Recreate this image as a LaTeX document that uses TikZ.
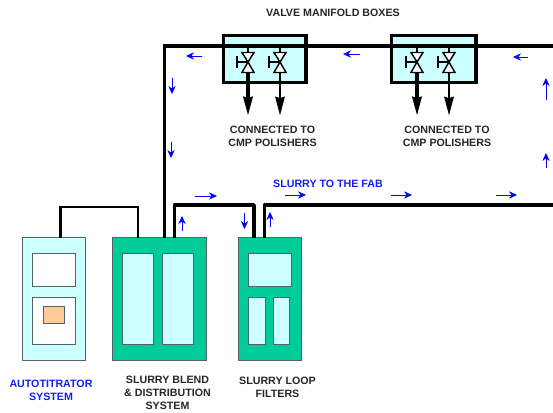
\documentclass[tikz,border=0pt]{standalone}
\usepackage{fontspec}
\setmainfont{Liberation Sans}
\definecolor{aqua}{RGB}{204,255,255}
\definecolor{teal1}{RGB}{0,204,153}
\definecolor{peach}{RGB}{255,204,153}
\definecolor{edgegray}{RGB}{80,100,100}
\definecolor{arrowblue}{RGB}{0,0,255}
\definecolor{labelblue}{RGB}{20,30,240}
\usetikzlibrary{arrows.meta}
\tikzset{
  panel/.style={draw=edgegray,line width=0.75pt,outer sep=0pt,inner sep=0pt,anchor=north west},
  pipethin/.style={line width=1.9pt,black},
  pipethick/.style={line width=2.3pt,black},
  flow/.style={arrowblue,line width=0.6pt,-{Stealth[length=6pt,width=5.5pt]}},
  outlet/.style={line width=2.4pt,black,-{Stealth[length=14pt,width=7pt,inset=1pt]}},
  outletthin/.style={line width=1.9pt,black,-{Stealth[length=14pt,width=7pt,inset=1pt]}},
  label/.style={font=\bfseries\fontsize{8pt}{9.7pt}\selectfont,align=center,text=black!85,inner sep=0pt},
  bluelabel/.style={label,text=labelblue},
  manifold/.style={draw=black,fill=aqua,line width=2.6pt,inner sep=0pt,anchor=north west},
  tri/.style={draw=black,fill=white,line width=1.1pt,line join=miter}
}
\newcommand{\valve}[2]{% name prefix, x
  \coordinate (#1c) at (#2,62);
  \coordinate (#1a) at (#2-11,62);
  \coordinate (#1t) at (#2,46);
  \coordinate (#1b) at (#2,73);
  \draw[line width=1.8pt] (#1t) -- (#1c);
  \draw[tri] (#2-6,52.5) -- (#2+6,52.5) -- (#1c) -- cycle;
  \draw[tri] (#2-6,72.5) -- (#2+6,72.5) -- (#1c) -- cycle;
  \draw[line width=1.7pt] (#1a) -- (#1c);
  \draw[line width=2.2pt] (#2-11,56) -- (#2-11,68);
}
\begin{document}
\begin{tikzpicture}[x=0.75pt,y=-0.75pt]
\useasboundingbox (0,0) rectangle (553,413);
% free ends
\coordinate (topR) at (553,46);
\coordinate (topL) at (164.5,46);
\coordinate (botR) at (553,205);

% manifold boxes
\node[manifold,minimum width=61.7pt,minimum height=34.9pt] (m1) at (222,34) {};
\node[manifold,minimum width=63.1pt,minimum height=34.9pt] (m2) at (390,34) {};

% blocks
\node[panel,fill=aqua,minimum width=47.25pt,minimum height=91.5pt] (auto) at (22,238) {};
\node[panel,fill=white,minimum width=32.25pt,minimum height=24.75pt] (auto1) at (32.5,253.5) {};
\node[panel,fill=white,minimum width=32.25pt,minimum height=35.25pt] (auto2) at (32.5,297) {};
\node[panel,fill=peach,minimum width=15.75pt,minimum height=12.75pt] (auto3) at (43,306.5) {};

\node[panel,fill=teal1,minimum width=70.5pt,minimum height=91.5pt] (blend) at (112,238) {};
\node[panel,fill=aqua,minimum width=23.25pt,minimum height=68.25pt] (blend1) at (122.5,253.5) {};
\node[panel,fill=aqua,minimum width=23.25pt,minimum height=68.25pt] (blend2) at (162,253.5) {};

\node[panel,fill=teal1,minimum width=47.25pt,minimum height=91.5pt] (filt) at (238,238) {};
\node[panel,fill=aqua,minimum width=32.25pt,minimum height=24.75pt] (filt1) at (248.5,253.5) {};
\node[panel,fill=aqua,minimum width=12.75pt,minimum height=35.25pt] (filt2) at (248.5,297) {};
\node[panel,fill=aqua,minimum width=12pt,minimum height=35.25pt] (filt3) at (273.5,297) {};

% pipes
\coordinate (p1a) at (60.5,238); \coordinate (p1b) at (138,238);
\draw[pipethin,line join=miter] (p1a) -- (60.5,207) -- (138,207) -- (p1b);
\coordinate (p2a) at (164.5,238);
\draw[pipethick,line width=2.4pt,line join=miter] (p2a) -- (topL) -- (topR);
\coordinate (p3a) at (174.5,238); \coordinate (p3b) at (254,238);
\draw[pipethick,line width=2.7pt,line join=round] (p3a) -- (174.5,205) -- (254,205) -- (p3b);
\coordinate (p4a) at (264.5,238);
\draw[pipethick,line width=2.7pt,line join=round] (p4a) -- (264.5,205) -- (botR);

% valves and outlets
\valve{a}{248}\valve{b}{280}\valve{c}{417}\valve{d}{449}
\coordinate (ae) at (248,115.5); \coordinate (be) at (280,115.5);
\coordinate (ce) at (417,115.5); \coordinate (de) at (449,115.5);
\draw[outlet] (ab) -- (ae);
\draw[outletthin] (bb) -- (be);
\draw[outlet] (cb) -- (ce);
\draw[outletthin] (db) -- (de);

% flow arrows
\foreach \i/\xa/\ya/\xb/\yb in {1/202/56/186/56, 2/360/54/343/54, 3/528/57/513/57,
  4/172/78/172/94, 5/171/142/171/158, 6/546/100/546/78, 7/546/168/546/153,
  8/391/195/412/195, 9/496/195/517/195, 10/195/196/217/196, 11/285/195/306/195,
  12/182/231/182/216, 13/244.5/213/244.5/229, 14/270/227/270/212}{
  \coordinate (f\i s) at (\xa,\ya);
  \coordinate (f\i e) at (\xb,\yb);
  \draw[flow] (f\i s) -- (f\i e);
}

% labels
\node[label] (t1) at (333,13) {VALVE MANIFOLD BOXES};
\node[label] (t2) at (272.5,136.5) {CONNECTED TO\\CMP POLISHERS};
\node[label] (t3) at (447,136.5) {CONNECTED TO\\CMP POLISHERS};
\node[bluelabel] (t4) at (328,184) {SLURRY TO THE FAB};
\node[bluelabel] (t5) at (51,390) {AUTOTITRATOR\\SYSTEM};
\node[label] (t6) at (167.5,393) {SLURRY BLEND\\\& DISTRIBUTION\\SYSTEM};
\node[label] (t7) at (277.5,387) {SLURRY LOOP\\FILTERS};
\end{tikzpicture}
\end{document}
